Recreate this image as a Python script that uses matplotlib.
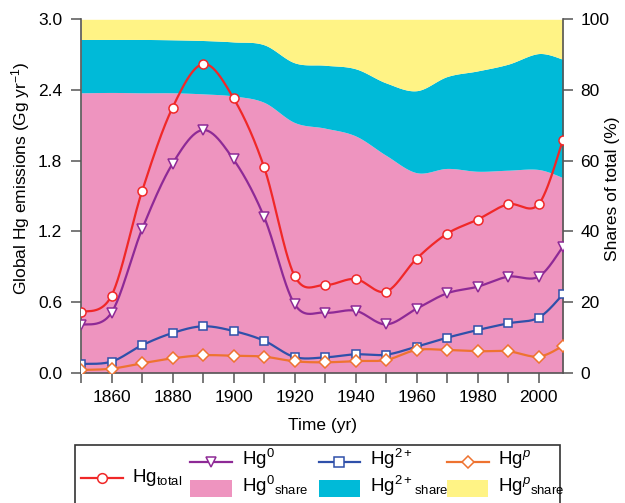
import numpy as np
import matplotlib
matplotlib.use("Agg")
import matplotlib.pyplot as plt
from matplotlib.lines import Line2D
from matplotlib.patches import Rectangle

plt.rcParams['font.family'] = ['Liberation Sans', 'DejaVu Sans']
plt.rcParams['mathtext.fontset'] = 'custom'
plt.rcParams['mathtext.rm'] = 'Liberation Sans'
plt.rcParams['mathtext.it'] = 'Liberation Sans:italic'
plt.rcParams['mathtext.bf'] = 'Liberation Sans:bold'

# ---------------- data ----------------
years = [1850, 1860, 1870, 1880, 1890, 1900, 1910, 1920, 1930, 1940,
         1950, 1960, 1970, 1980, 1990, 2000, 2008]
hg_total = [0.513, 0.654, 1.54, 2.25, 2.62, 2.33, 1.746, 0.823, 0.745, 0.795,
            0.688, 0.968, 1.18, 1.30, 1.43, 1.43, 1.975]
hg0 = [0.405, 0.51, 1.217, 1.774, 2.06, 1.81, 1.324, 0.583, 0.51, 0.526,
       0.41, 0.543, 0.674, 0.73, 0.815, 0.815, 1.07]
hg2 = [0.074, 0.094, 0.233, 0.337, 0.394, 0.354, 0.272, 0.133, 0.13, 0.156,
       0.153, 0.221, 0.297, 0.362, 0.419, 0.467, 0.665]
hgp = [0.023, 0.034, 0.08, 0.122, 0.148, 0.144, 0.136, 0.097, 0.088, 0.099,
       0.108, 0.193, 0.193, 0.182, 0.182, 0.136, 0.227]
# shares of total (%)
hg0_share = [79.2, 79.3, 79.2, 79.2, 78.9, 78.3, 76.5, 70.8, 69.2, 67.0,
             61.5, 56.6, 57.8, 57.0, 57.3, 57.5, 55.2]
hg2_share = [15.1, 15.0, 15.1, 15.0, 15.1, 15.3, 16.3, 16.9, 17.8, 19.0,
             20.5, 23.2, 26.0, 28.4, 30.0, 32.8, 33.5]
hgp_share = [5.7, 5.7, 5.7, 5.8, 6.0, 6.4, 7.2, 12.3, 13.0, 14.0,
             18.0, 20.2, 16.2, 14.6, 12.7, 9.7, 11.3]

yl_ticks = [0.0, 0.6, 1.2, 1.8, 2.4, 3.0]
yr_ticks = [0, 20, 40, 60, 80, 100]
x_major = [1860, 1880, 1900, 1920, 1940, 1960, 1980, 2000]

# ---------------- smoothing (Catmull-Rom, like spreadsheet smoothing) -----
def smooth(x, y, n=40):
    P = np.column_stack([np.asarray(x, float), np.asarray(y, float)])
    P = np.vstack([P[0], P, P[-1]])
    out = []
    t = np.linspace(0, 1, n)[:, None]
    for i in range(1, len(P) - 2):
        p0, p1, p2, p3 = P[i - 1], P[i], P[i + 1], P[i + 2]
        seg = 0.5 * ((2 * p1) + (-p0 + p2) * t + (2 * p0 - 5 * p1 + 4 * p2 - p3) * t ** 2
                     + (-p0 + 3 * p1 - 3 * p2 + p3) * t ** 3)
        out.append(seg if i == 1 else seg[1:])
    S = np.vstack(out)
    return S[:, 0], S[:, 1]

pink = '#EE94BF'
cyan = '#00BAD8'
yellow = '#FFF385'
red = '#F02828'
purple = '#8E2A96'
blue = '#2F50AA'
orange = '#EE7330'

W, H = 625, 503
fig = plt.figure(figsize=(W / 100, H / 100), dpi=100)
L, R, T, B = 81, 563, 19.3, 372.7
ax = fig.add_axes([L / W, 1 - B / H, (R - L) / W, (B - T) / H])
ax2 = ax.twinx()

# shares (stacked areas) on right axis
xs, s0 = smooth(years, hg0_share)
c2 = np.array(hg0_share) + np.array(hg2_share)
_, s1 = smooth(years, c2)
ax2.fill_between(xs, 0, s0, color=pink, lw=0)
ax2.fill_between(xs, s0, s1, color=cyan, lw=0)
ax2.fill_between(xs, s1, 100, color=yellow, lw=0)
ax2.set_ylim(0, 100)
ax2.set_yticks(yr_ticks)

ax.set_zorder(ax2.get_zorder() + 1)
ax.patch.set_visible(False)

series = [(hg_total, red, 'o'), (hg0, purple, 'v'), (hg2, blue, 's'), (hgp, orange, 'D')]
msz = {'o': 6.5, 'v': 6.5, 's': 6, 'D': 6}
for vals, col, mk in series:
    sx, sy = smooth(years, vals)
    ax.plot(sx, sy, color=col, lw=1.6, zorder=3)
    ax.plot(years, vals, ls='none', marker=mk, ms=msz[mk], mfc='white', mec=col, mew=1.1, zorder=4)

ax.set_xlim(1850, 2008)
ax.set_ylim(0, 3.0)
ax.set_yticks(yl_ticks)
ax.set_yticklabels([f'{v:.1f}' for v in yl_ticks])
ax.set_xticks(x_major)
ax.set_xticks(years[:-1], minor=True)
ax2.set_xlim(1850, 2008)

spcol = '#555555'
for a in (ax, ax2):
    a.spines['top'].set_visible(False)
    for s in ('left', 'right', 'bottom'):
        a.spines[s].set_color(spcol)
        a.spines[s].set_linewidth(1.2)
ax.spines['right'].set_visible(False)
ax2.spines['left'].set_visible(False)
ax2.spines['bottom'].set_visible(False)

ax.tick_params(axis='both', which='both', direction='out', length=7.5, width=1.1,
               color=spcol, labelsize=12.5)
ax.tick_params(axis='x', pad=5)
ax.tick_params(axis='y', pad=6)
ax2.tick_params(axis='y', direction='out', length=7.5, width=1.1, color=spcol,
                labelsize=12.5, pad=5)

ax.set_xlabel('Time (yr)', fontsize=12.5)
ax.xaxis.set_label_coords(0.5, -0.128)
ax.set_ylabel('Global Hg emissions (Gg yr$^{-1}$)', fontsize=12.5)
ax.yaxis.set_label_coords(-0.102, 0.55)
ax2.set_ylabel('Shares of total (%)', fontsize=12.5)
ax2.yaxis.set_label_coords(1.088, 0.52)

# ---------------- legend (manual, in pixel coordinates) ----------------
def fx(px):
    return px / W

def fy(py):
    return 1 - py / H

fig.patches.append(Rectangle((fx(75), fy(515)), fx(560) - fx(75), fy(444.5) - fy(515),
                             transform=fig.transFigure, fill=False, ec='#333333', lw=1.2))

def leg_line(x0, x1, y, col, mk):
    fig.lines.append(Line2D([fx(x0), fx(x1)], [fy(y), fy(y)], transform=fig.transFigure,
                            color=col, lw=1.6))
    fig.lines.append(Line2D([fx((x0 + x1) / 2)], [fy(y)], transform=fig.transFigure,
                            ls='none', marker=mk, ms=msz[mk] + 0.5, mfc='white', mec=col, mew=1.1))

def leg_patch(x0, x1, y0, y1, col):
    fig.patches.append(Rectangle((fx(x0), fy(y1)), fx(x1) - fx(x0), fy(y0) - fy(y1),
                                 transform=fig.transFigure, color=col, lw=0))

fs = 13.5
leg_line(81, 123, 477.7, red, 'o')
fig.text(fx(132.5), fy(477.7), 'Hg$_{\\mathregular{total}}$', fontsize=fs, va='center', ha='left')

cols = [(190, 232, purple, pink, '0'), (318.5, 360, blue, cyan, '2+'),
        (447, 488.5, orange, yellow, 'p')]
for x0, x1, lc, pc, sup in cols:
    leg_line(x0, x1, 461.7, lc, {'0': 'v', '2+': 's', 'p': 'D'}[sup])
    leg_patch(x0, x1, 480, 497, pc)
    s = '\\mathit{p}' if sup == 'p' else sup
    fig.text(fx(x1 + 10), fy(459), 'Hg$^{%s}$' % s, fontsize=fs, va='center', ha='left')
    fig.text(fx(x1 + 10), fy(486), 'Hg$^{%s}$$_{\\mathregular{share}}$' % s, fontsize=fs,
             va='center', ha='left')

fig.savefig('out.png', dpi=100)
